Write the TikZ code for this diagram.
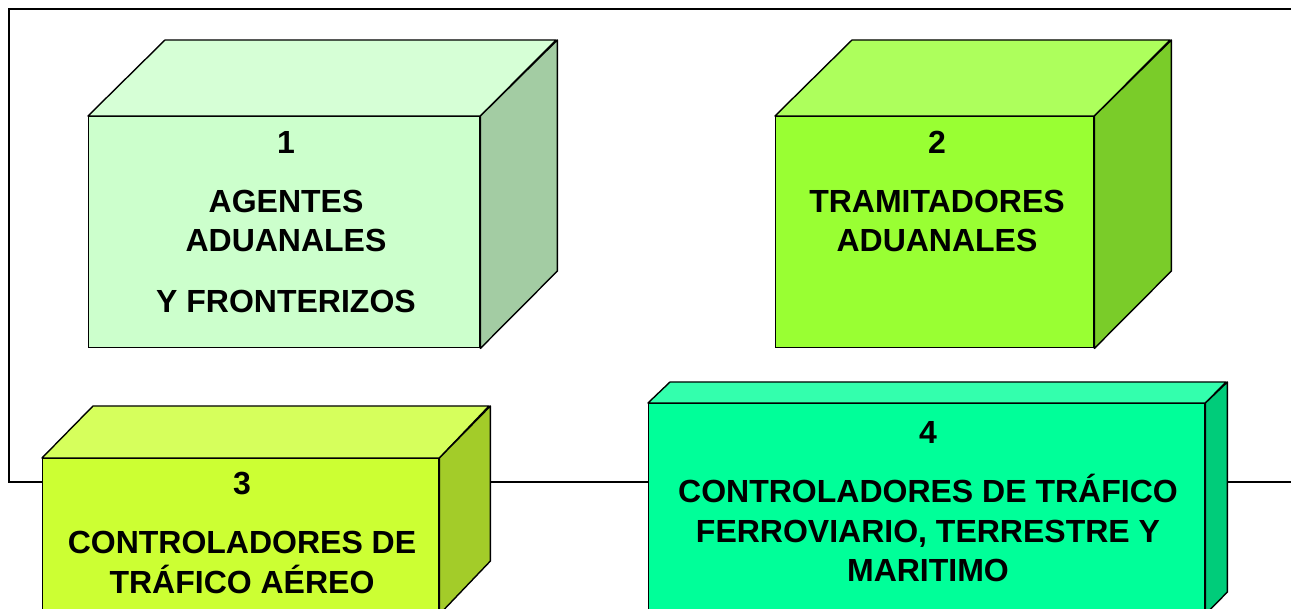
\documentclass[tikz,border=0pt]{standalone}
\usepackage{fontspec}
\setmainfont{Liberation Sans}
\definecolor{f1}{HTML}{CCFFCC}\definecolor{t1}{HTML}{D6FFD6}\definecolor{s1}{HTML}{A3CCA3}
\definecolor{f2}{HTML}{99FF33}\definecolor{t2}{HTML}{ADFF5C}\definecolor{s2}{HTML}{7ACC29}
\definecolor{f3}{HTML}{CCFF33}\definecolor{t3}{HTML}{D6FF5C}\definecolor{s3}{HTML}{A3CC29}
\definecolor{f4}{HTML}{00FF99}\definecolor{t4}{HTML}{33FFAD}\definecolor{s4}{HTML}{00CC7A}
\begin{document}
\begin{tikzpicture}[x=1pt,y=-1pt,
  frontface/.style={draw=black,line width=1.4pt,inner sep=0pt,anchor=north west},
  face/.style={draw=black,line width=1.4pt,line join=round},
  frameline/.style={draw=black,line width=1.6pt},
  label/.style={align=center,font=\bfseries\fontsize{32}{39.5}\selectfont,inner sep=0pt}]
\useasboundingbox (0,0) rectangle (1291,609);
\begin{scope}
\clip (0,0) rectangle (1291,609);
% frame
\coordinate (fa) at (1295,482);
\coordinate (fb) at (9,482);
\coordinate (fc) at (9,9);
\coordinate (fd) at (1295,9);
\draw[frameline] (fa) -- (fb) -- (fc) -- (fd);
% box 1
\node[frontface,fill=f1,minimum width=391pt,minimum height=231pt] (b1) at (88,116) {};
\draw[face,fill=t1] (b1.north west) -- ++(77,-76) -- ++(391,0) -- (b1.north east) -- cycle;
\draw[face,fill=s1] (b1.north east) -- ++(77,-76) -- ++(0,231) -- (b1.south east) -- cycle;
\node[label] (l1) at (286,222) {1\\[19.5pt]AGENTES\\ADUANALES\\[21pt]Y FRONTERIZOS};
% box 2
\node[frontface,fill=f2,minimum width=318pt,minimum height=231pt] (b2) at (775,116) {};
\draw[face,fill=t2] (b2.north west) -- ++(77,-76) -- ++(318,0) -- (b2.north east) -- cycle;
\draw[face,fill=s2] (b2.north east) -- ++(77,-76) -- ++(0,231) -- (b2.south east) -- cycle;
\node[label] (l2) at (937,191.5) {2\\[19.5pt]TRAMITADORES\\ADUANALES};
% box 3
\node[frontface,fill=f3,minimum width=396pt,minimum height=155pt] (b3) at (42,458) {};
\draw[face,fill=t3] (b3.north west) -- ++(51,-52) -- ++(396,0) -- (b3.north east) -- cycle;
\draw[face,fill=s3] (b3.north east) -- ++(51,-52) -- ++(0,155) -- (b3.south east) -- cycle;
\node[label] (l3) at (242,532.5) {3\\[20pt]CONTROLADORES DE\\TRÁFICO AÉREO};
% box 4
\node[frontface,fill=f4,minimum width=556pt,minimum height=210pt] (b4) at (648,403) {};
\draw[face,fill=t4] (b4.north west) -- ++(22,-21) -- ++(556,0) -- (b4.north east) -- cycle;
\draw[face,fill=s4] (b4.north east) -- ++(22,-21) -- ++(0,210) -- (b4.south east) -- cycle;
\node[label] (l4) at (928,502) {4\\[19.5pt]CONTROLADORES DE TRÁFICO\\FERROVIARIO, TERRESTRE Y\\MARITIMO};
\end{scope}
\end{tikzpicture}
\end{document}
